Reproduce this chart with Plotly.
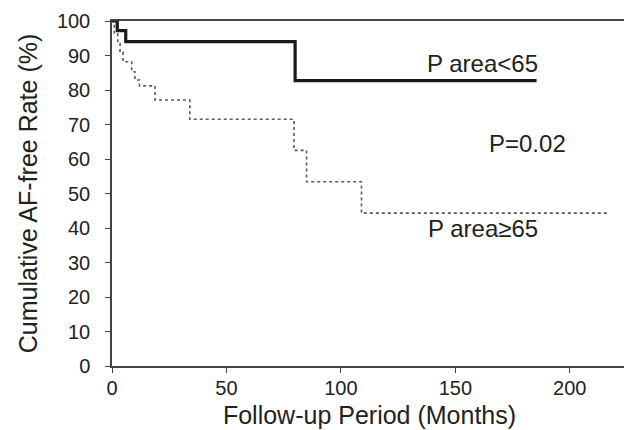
import plotly.graph_objects as go

# Kaplan-Meier step data
low_months = [0, 2.3, 6, 80, 185.5]
low_rate = [100, 97.2, 94, 82.7, 82.7]

high_months = [0, 1, 2.5, 3.5, 4.8, 8.6, 10, 12, 18.8, 34, 79.5, 85, 109, 217.5]
high_rate = [100, 96.5, 93.5, 91, 88.2, 85.3, 82.9, 81.2, 77.1, 71.5, 62.5, 53.4, 44.3, 44.3]

x_ticks = [0, 50, 100, 150, 200]
y_ticks = [0, 10, 20, 30, 40, 50, 60, 70, 80, 90, 100]

label_low = "P area<65"
label_high = "P area≥65"
p_text = "P=0.02"

FONT = "Arial, Liberation Sans, sans-serif"
TXT = "#222222"

fig = go.Figure()
fig.add_trace(go.Scatter(x=high_months, y=high_rate, mode="lines",
                         line=dict(shape="hv", color="#5a5a5a", width=1.6, dash="dot"),
                         showlegend=False, hoverinfo="skip"))
fig.add_trace(go.Scatter(x=low_months, y=low_rate, mode="lines",
                         line=dict(shape="hv", color="#1a1a1a", width=3.2),
                         showlegend=False, hoverinfo="skip"))

fig.add_annotation(x=162, y=87.8, text=label_low, showarrow=False,
                   font=dict(family=FONT, size=24, color=TXT))
fig.add_annotation(x=181.5, y=64.6, text=p_text, showarrow=False,
                   font=dict(family=FONT, size=24, color=TXT))
fig.add_annotation(x=162, y=40, text=label_high, showarrow=False,
                   font=dict(family=FONT, size=24, color=TXT))

fig.update_layout(
    width=632, height=430,
    margin=dict(l=104, r=13, t=13, b=72),
    paper_bgcolor="white", plot_bgcolor="white",
    font=dict(family=FONT, color=TXT),
)
fig.update_xaxes(range=[0, 225], tickvals=x_ticks, ticks="outside", ticklen=5,
                 tickcolor="#444", showgrid=False, zeroline=False, automargin=False,
                 showline=True, linecolor="#444", linewidth=1.5, mirror=True,
                 ticklabelstandoff=-2,
                 tickfont=dict(size=20, family=FONT, color=TXT),
                 title=dict(text="Follow-up Period (Months)", standoff=9,
                            font=dict(size=25, family=FONT, color=TXT)))
fig.update_yaxes(range=[0, 100], tickvals=y_ticks, ticks="outside", ticklen=5,
                 tickcolor="#444", showgrid=False, zeroline=False, automargin=False,
                 showline=True, linecolor="#444", linewidth=1.5, mirror=True,
                 ticklabelstandoff=11,
                 tickfont=dict(size=20, family=FONT, color=TXT),
                 title=dict(text="Cumulative AF-free Rate (%)", standoff=12,
                            font=dict(size=25, family=FONT, color=TXT)))

fig.write_html("out.html")
